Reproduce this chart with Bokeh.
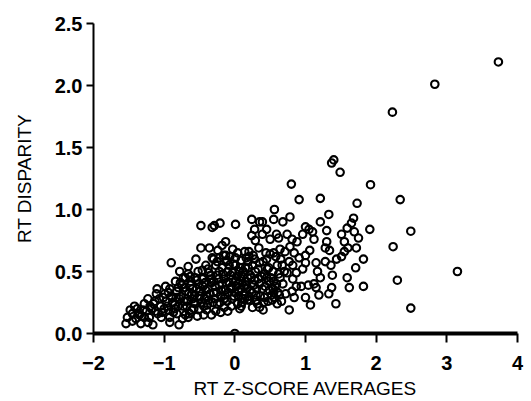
from bokeh.plotting import figure
from bokeh.models import Range1d, FixedTicker, ColumnDataSource
from bokeh.embed import file_html
from bokeh.resources import INLINE

# Points, grouped by x region
x_left = [-1.54, -1.52, -1.48, -1.42, -1.37, -1.40, -1.33, -1.30, -1.28, -1.23, -1.21, -1.16, -1.18, -1.13,
          -1.11, -1.09, -1.05, -1.01, -1.23, -1.35, -1.45, -1.28, -1.15, -1.0, -1.10, -1.04]
y_left = [0.08, 0.13, 0.19, 0.22, 0.16, 0.12, 0.08, 0.19, 0.24, 0.28, 0.13, 0.07, 0.20, 0.26,
          0.32, 0.16, 0.22, 0.29, 0.09, 0.15, 0.16, 0.13, 0.24, 0.20, 0.36, 0.13]

x_lowmid = [-0.90, -0.66, -0.55, -0.78, -0.66, -0.56, -0.73, -0.84, -0.75, -0.63, -0.54, -0.92, -0.82, -0.70,
            -0.61, -0.99, -0.89, -0.78, -0.67, -0.56, -0.97, -0.85, -0.73, -0.61, -0.51, -0.94, -0.82, -0.70,
            -0.92, -0.79, -0.92, -0.66, -0.98, -0.85, -0.72, -0.90, -0.80, -0.65, -0.62, -0.70, -0.60, -0.58]
y_lowmid = [0.57, 0.54, 0.60, 0.50, 0.48, 0.45, 0.45, 0.42, 0.39, 0.39, 0.36, 0.36, 0.34, 0.34,
            0.32, 0.32, 0.29, 0.28, 0.26, 0.24, 0.26, 0.23, 0.22, 0.19, 0.19, 0.19, 0.16, 0.15,
            0.13, 0.07, 0.09, 0.13, 0.38, 0.20, 0.26, 0.30, 0.37, 0.33, 0.42, 0.45, 0.28, 0.20]

x_mid = [-0.21, -0.32, -0.29, -0.48, -0.48, -0.36, -0.24, -0.18, -0.13, -0.22, -0.32, -0.41, -0.27, -0.18,
         -0.08, -0.46, -0.37, -0.25, -0.15, -0.08, -0.44, -0.51, -0.33, -0.22, -0.13, -0.41, -0.30, -0.20,
         -0.11, -0.49, -0.37, -0.25, -0.15, -0.44, -0.33, -0.44, -0.10, -0.27, -0.45, -0.35, -0.28, -0.18,
         -0.50, -0.40, -0.28, -0.15, -0.40, -0.20, -0.52, -0.38, -0.22, -0.10, -0.30, -0.12, -0.03, -0.05]
y_mid = [0.89, 0.855, 0.87, 0.87, 0.69, 0.69, 0.67, 0.71, 0.63, 0.61, 0.61, 0.55, 0.55, 0.53,
         0.55, 0.51, 0.49, 0.47, 0.44, 0.41, 0.45, 0.40, 0.41, 0.39, 0.35, 0.35, 0.33, 0.30,
         0.26, 0.30, 0.27, 0.24, 0.21, 0.22, 0.15, 0.15, 0.18, 0.18, 0.38, 0.44, 0.38, 0.40,
         0.28, 0.30, 0.28, 0.28, 0.19, 0.17, 0.50, 0.52, 0.50, 0.50, 0.60, 0.58, 0.44, 0.36]

x_zero = [0.01, 0.0, -0.03, -0.13, 0.04, 0.09, 0.14, 0.01, 0.06, -0.03, 0.11, 0.01, -0.06, 0.06,
          -0.01, 0.11, 0.04, -0.05, 0.07, 0.13, 0.18, 0.15, 0.01, -0.11, 0.05, 0.15, 0.22, 0.0,
          0.20, 0.10, 0.08, 0.20]
y_zero = [0.88, 0.0, 0.68, 0.74, 0.65, 0.59, 0.66, 0.55, 0.50, 0.49, 0.46, 0.42, 0.37, 0.34,
          0.30, 0.28, 0.24, 0.22, 0.20, 0.38, 0.45, 0.53, 0.61, 0.59, 0.40, 0.42, 0.35, 0.33,
          0.30, 0.25, 0.53, 0.62]

x_pos = [0.24, 0.35, 0.39, 0.28, 0.45, 0.24, 0.29, 0.39, 0.50, 0.64, 0.55, 0.44, 0.34, 0.20,
         0.16, 0.28, 0.35, 0.48, 0.54, 0.62, 0.42, 0.29, 0.19, 0.23, 0.33, 0.48, 0.54, 0.59,
         0.39, 0.27, 0.17, 0.30, 0.42, 0.52, 0.21, 0.32, 0.35, 0.25, 0.14, 0.09, 0.47, 0.66,
         0.40, 0.35, 0.45, 0.25, 0.40, 0.45, 0.30, 0.55, 0.60, 0.50, 0.65, 0.70, 0.68, 0.72, 0.55]
y_pos = [0.92, 0.90, 0.90, 0.84, 0.84, 0.79, 0.75, 0.80, 0.76, 0.68, 0.65, 0.65, 0.69, 0.66,
         0.61, 0.60, 0.57, 0.53, 0.50, 0.48, 0.48, 0.50, 0.53, 0.45, 0.44, 0.42, 0.36, 0.40,
         0.36, 0.39, 0.36, 0.31, 0.29, 0.31, 0.27, 0.24, 0.21, 0.21, 0.28, 0.22, 0.26, 0.26,
         0.19, 0.40, 0.45, 0.55, 0.58, 0.60, 0.27, 0.42, 0.55, 0.64, 0.60, 0.50, 0.40, 0.32, 0.33]

x_right = [0.80, 0.91, 0.78, 0.68, 0.55, 0.56, 1.0, 1.05, 1.10, 1.12, 1.21, 1.21, 1.33, 1.30,
           1.30, 1.28, 1.34, 1.28, 1.36, 1.38, 1.37, 1.33, 1.19, 1.12, 1.15, 1.04, 1.0, 1.07,
           1.21, 1.15, 1.17, 1.0, 0.96, 1.06, 1.0, 0.91, 0.96, 0.88, 0.81, 0.74, 0.62, 0.59,
           0.71, 0.78, 0.84, 0.77, 0.82, 0.87, 0.82, 0.74, 0.94, 0.87, 0.81, 0.84, 0.77, 0.63,
           0.60, 0.56]
y_right = [1.205, 1.08, 0.94, 0.90, 0.92, 1.00, 0.86, 0.84, 0.82, 0.76, 0.90, 1.09, 0.96, 0.83,
           0.74, 0.69, 0.67, 0.58, 0.55, 0.47, 0.37, 0.32, 0.31, 0.40, 0.37, 0.39, 0.29, 0.23,
           0.45, 0.57, 0.50, 0.57, 0.52, 0.67, 0.63, 0.61, 0.80, 0.74, 0.76, 0.80, 0.77, 0.80,
           0.66, 0.70, 0.65, 0.58, 0.55, 0.49, 0.44, 0.49, 0.38, 0.38, 0.34, 0.29, 0.19, 0.31,
           0.24, 0.29]

x_far = [1.49, 1.37, 1.40, 1.73, 1.68, 1.65, 1.59, 1.51, 1.55, 1.60, 1.55, 1.51, 1.44, 1.69,
         1.75, 1.72, 1.82, 1.71, 1.59, 1.62, 1.82, 1.43, 1.92, 1.91,
         3.73, 2.83, 2.23, 2.34, 2.49, 2.24, 3.15, 2.30, 2.49]
y_far = [1.30, 1.375, 1.40, 1.05, 0.93, 0.89, 0.85, 0.80, 0.74, 0.69, 0.66, 0.62, 0.60, 0.82,
         0.77, 0.69, 0.60, 0.53, 0.45, 0.37, 0.38, 0.24, 1.20, 0.84,
         2.19, 2.01, 1.785, 1.08, 0.825, 0.70, 0.50, 0.43, 0.205]

x_dense = [-1.45, -1.38, -1.32, -1.25, -1.20, -1.12, -1.07, -1.03, -0.96, -0.94, -0.88, -0.87, -0.83, -0.80,
           -0.77, -0.76, -0.74, -0.71, -0.68, -0.64, -0.63, -0.60, -0.58, -0.57, -0.54, -0.53, -0.49, -0.47,
           -0.46, -0.43, -0.42, -0.39, -0.38, -0.35, -0.34, -0.31, -0.30, -0.26, -0.25, -0.23, -0.21, -0.19,
           -0.17, -0.16, -0.14, -0.12, -0.09, -0.07, -0.06, -0.04, -0.02, 0.02, 0.03, 0.05, 0.07, 0.09,
           0.12, 0.13, 0.16, 0.18, 0.19, 0.22, 0.24, 0.26, 0.28, 0.31, 0.33, 0.36, 0.38, 0.41,
           0.43, 0.46, 0.49, 0.51, 0.53, 0.57, 0.58, 0.61, 0.64, 0.67]
y_dense = [0.10, 0.20, 0.14, 0.18, 0.22, 0.18, 0.28, 0.17, 0.22, 0.33, 0.25, 0.17, 0.29, 0.22,
           0.41, 0.30, 0.12, 0.37, 0.22, 0.16, 0.46, 0.36, 0.25, 0.31, 0.43, 0.14, 0.34, 0.25,
           0.44, 0.28, 0.41, 0.23, 0.36, 0.32, 0.47, 0.25, 0.42, 0.33, 0.58, 0.44, 0.25, 0.35,
           0.48, 0.63, 0.31, 0.41, 0.33, 0.62, 0.47, 0.28, 0.56, 0.38, 0.46, 0.30, 0.43, 0.36,
           0.50, 0.32, 0.39, 0.27, 0.58, 0.47, 0.33, 0.63, 0.43, 0.36, 0.52, 0.30, 0.46, 0.25,
           0.38, 0.52, 0.35, 0.45, 0.27, 0.38, 0.62, 0.33, 0.45, 0.55]

x_ticks = [-2, -1, 0, 1, 2, 3, 4]
y_ticks = [0.0, 0.5, 1.0, 1.5, 2.0, 2.5]
x_tick_labels = {-2: "\u22122", -1: "\u22121", 0: "0", 1: "1", 2: "2", 3: "3", 4: "4"}
y_tick_labels = {0: "0.0", 0.5: "0.5", 1: "1.0", 1.5: "1.5", 2: "2.0", 2.5: "2.5"}

xs = x_left + x_lowmid + x_mid + x_zero + x_pos + x_right + x_far + x_dense
ys = y_left + y_lowmid + y_mid + y_zero + y_pos + y_right + y_far + y_dense
src = ColumnDataSource(dict(x=xs, y=ys))

p = figure(width=525, height=401, output_backend="svg", toolbar_location=None,
           x_range=Range1d(-2, 4), y_range=Range1d(0, 2.5),
           min_border_left=93, min_border_top=23, min_border_right=8, min_border_bottom=10)
p.outline_line_color = None
p.grid.visible = False
p.background_fill_color = "white"

p.scatter("x", "y", source=src, marker="circle", size=7.5, line_color="black",
          line_width=2.1, fill_color=None)

FONT = "Liberation Sans"
for ax in (p.xaxis[0], p.yaxis[0]):
    ax.major_label_text_font = FONT
    ax.major_label_text_font_style = "bold"
    ax.major_label_text_font_size = "20px"
    ax.major_label_text_color = "black"
    ax.axis_label_text_font = FONT
    ax.axis_label_text_font_style = "normal"
    ax.axis_label_text_font_size = "19px"
    ax.axis_label_text_color = "black"
    ax.axis_line_color = "black"
    ax.major_tick_line_color = "black"
    ax.major_tick_line_width = 2
    ax.minor_tick_line_color = None
    ax.major_tick_in = 0

p.xaxis.ticker = FixedTicker(ticks=x_ticks)
p.yaxis.ticker = FixedTicker(ticks=y_ticks)
p.xaxis.major_label_overrides = x_tick_labels
p.yaxis.major_label_overrides = y_tick_labels
p.xaxis.axis_label = "RT Z-SCORE AVERAGES"
p.yaxis.axis_label = "RT DISPARITY"
p.xaxis.axis_line_width = 4
p.yaxis.axis_line_width = 2
p.xaxis.major_tick_out = 9
p.yaxis.major_tick_out = 7
p.xaxis.major_label_standoff = 13
p.yaxis.major_label_standoff = 4
p.xaxis.axis_label_standoff = 5
p.yaxis.axis_label_standoff = 17

open("out.html", "w").write(file_html(p, INLINE))
